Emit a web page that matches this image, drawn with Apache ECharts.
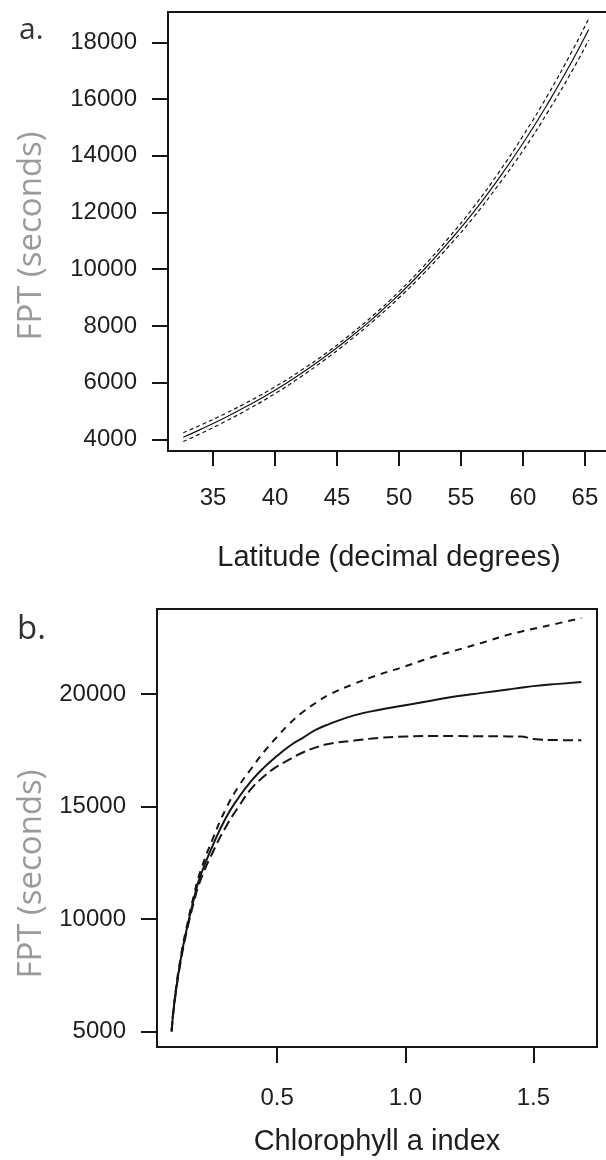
<!DOCTYPE html>
<html>
<head>
<meta charset="utf-8">
<script src="https://cdn.jsdelivr.net/npm/echarts@6/dist/echarts.min.js"></script>
<style>
  html, body { margin: 0; padding: 0; background: #ffffff; }
  #chart { width: 606px; height: 1160px; }
</style>
</head>
<body>
<div id="chart"></div>
<script>
// Panel a: FPT against latitude (fitted curve with confidence band)
const latitude   = [32.6, 34, 36, 38, 40, 42, 44, 46, 48, 50, 52, 54, 56, 58, 60, 62, 64, 65.3];
const latFit     = [4070, 4350, 4770, 5230, 5730, 6290, 6900, 7570, 8300, 9100, 9980, 10950, 12000, 13170, 14440, 15840, 17370, 18450];
const latUpper   = [4230, 4500, 4910, 5360, 5850, 6400, 7000, 7670, 8400, 9210, 10110, 11100, 12180, 13380, 14700, 16140, 17720, 18830];
const latLower   = [3920, 4200, 4630, 5100, 5610, 6180, 6800, 7470, 8200, 8990, 9850, 10800, 11820, 12960, 14180, 15540, 17020, 18080];
const latTicks   = [35, 40, 45, 50, 55, 60, 65];
const latFptTicks = [4000, 6000, 8000, 10000, 12000, 14000, 16000, 18000];

// Panel b: FPT against chlorophyll a index
const chlIndex = [0.088, 0.1, 0.125, 0.15, 0.175, 0.2, 0.25, 0.3, 0.35, 0.4, 0.45, 0.5, 0.55, 0.6, 0.65, 0.7, 0.8, 0.9, 1.0, 1.1, 1.2, 1.3, 1.4, 1.45, 1.5, 1.6, 1.687];
const chlFit   = [5000, 6400, 8300, 9700, 10900, 11900, 13300, 14500, 15400, 16150, 16750, 17250, 17700, 18050, 18400, 18650, 19050, 19300, 19500, 19700, 19900, 20050, 20200, 20280, 20350, 20450, 20530];
const chlUpper = [5000, 6450, 8400, 9800, 11050, 12100, 13600, 14900, 15900, 16700, 17450, 18100, 18700, 19200, 19600, 19950, 20450, 20870, 21230, 21620, 21950, 22280, 22630, 22770, 22900, 23150, 23380];
const chlLower = [5000, 6350, 8200, 9600, 10750, 11700, 13000, 14100, 15000, 15800, 16350, 16780, 17100, 17400, 17620, 17780, 17930, 18050, 18110, 18130, 18130, 18120, 18115, 18110, 18000, 17950, 17940];
const chlTicks = [0.5, 1.0, 1.5];
const chlFptTicks = [5000, 10000, 15000, 20000];

const ink = '#151515';
const tickFont = { color: '#1e1e1e', fontFamily: 'Liberation Sans', fontSize: 24 };
const titleFont = { color: '#1e1e1e', fontFamily: 'Liberation Sans', fontSize: 29 };
const grayTitle = { fill: '#9a9a9a', fontFamily: 'Open Sans', fontSize: 33, text: 'FPT (seconds)', align: 'center', verticalAlign: 'middle' };

const pairs = (xs, ys) => xs.map((x, i) => [x, ys[i]]);

function lineSeries(idx, xs, ys, width, dash) {
  return {
    type: 'line',
    xAxisIndex: idx,
    yAxisIndex: idx,
    data: pairs(xs, ys),
    symbol: 'none',
    smooth: true,
    silent: true,
    lineStyle: { color: ink, width: width, type: dash || 'solid' }
  };
}

const chart = echarts.init(document.getElementById('chart'), null, { renderer: 'canvas' });

chart.setOption({
  animation: false,
  backgroundColor: '#ffffff',
  title: [
    { text: 'a.', left: 14, top: 10, textStyle: { color: '#333', fontFamily: 'Open Sans', fontWeight: 'normal', fontSize: 30 } },
    { text: 'b.', left: 12, top: 608, textStyle: { color: '#333', fontFamily: 'Open Sans', fontWeight: 'normal', fontSize: 33 } }
  ],
  // y-axis titles, rotated, placed beside each panel
  graphic: [
    { type: 'text', x: 32, y: 236, rotation: Math.PI / 2, silent: true, style: grayTitle },
    { type: 'text', x: 32, y: 874, rotation: Math.PI / 2, silent: true, style: grayTitle }
  ],
  grid: [
    // panel a runs past the right edge of the page, so its right border is not seen
    { left: 168, top: 12, width: 442, height: 439, outerBoundsMode: 'none', show: true, borderColor: ink, borderWidth: 2, backgroundColor: 'transparent' },
    { left: 157, top: 609, width: 440, height: 438, outerBoundsMode: 'none', show: true, borderColor: ink, borderWidth: 2, backgroundColor: 'transparent' }
  ],
  xAxis: [
    {
      type: 'value', gridIndex: 0, min: 31.37, max: 67.02,
      name: 'Latitude (decimal degrees)', nameLocation: 'middle', nameGap: 92, nameTextStyle: titleFont,
      axisLine: { show: true, lineStyle: { color: ink, width: 2 } },
      axisTick: { show: true, length: 15, lineStyle: { color: ink, width: 2 }, customValues: latTicks },
      axisLabel: { margin: 35, customValues: latTicks, formatter: v => String(v), ...tickFont },
      splitLine: { show: false }
    },
    {
      type: 'value', gridIndex: 1, min: 0.031, max: 1.748,
      name: 'Chlorophyll a index', nameLocation: 'middle', nameGap: 80, nameTextStyle: titleFont,
      axisLine: { show: true, lineStyle: { color: ink, width: 2 } },
      axisTick: { show: true, length: 16, lineStyle: { color: ink, width: 2 }, customValues: chlTicks },
      axisLabel: { margin: 39, customValues: chlTicks, formatter: v => v.toFixed(1), ...tickFont },
      splitLine: { show: false }
    }
  ],
  yAxis: [
    {
      type: 'value', gridIndex: 0, min: 3587, max: 19070,
      axisLine: { show: true, lineStyle: { color: ink, width: 2 } },
      axisTick: { show: true, length: 16, lineStyle: { color: ink, width: 2 }, customValues: latFptTicks },
      axisLabel: { margin: 31, customValues: latFptTicks, formatter: v => String(v), ...tickFont },
      splitLine: { show: false }
    },
    {
      type: 'value', gridIndex: 1, min: 4306, max: 23779,
      axisLine: { show: true, lineStyle: { color: ink, width: 2 } },
      axisTick: { show: true, length: 16, lineStyle: { color: ink, width: 2 }, customValues: chlFptTicks },
      axisLabel: { margin: 31, customValues: chlFptTicks, formatter: v => String(v), ...tickFont },
      splitLine: { show: false }
    }
  ],
  series: [
    lineSeries(0, latitude, latUpper, 1.2, [4, 3]),
    lineSeries(0, latitude, latFit, 1.2),
    lineSeries(0, latitude, latLower, 1.2, [4, 3]),
    lineSeries(1, chlIndex, chlUpper, 2, [7, 6]),
    lineSeries(1, chlIndex, chlFit, 2),
    lineSeries(1, chlIndex, chlLower, 2, [10, 5])
  ]
});
</script>
</body>
</html>
